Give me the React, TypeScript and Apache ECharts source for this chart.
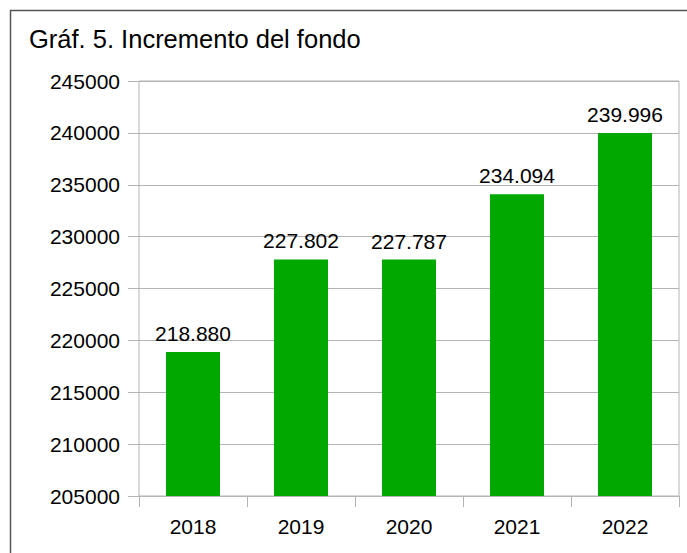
import React, { useEffect, useRef } from "react";
import * as echarts from "echarts";

const title = "Gráf. 5. Incremento del fondo";
const years = ["2018", "2019", "2020", "2021", "2022"];
const values = [218880, 227802, 227787, 234094, 239996];
const yMin = 205000;
const yMax = 245000;
const yStep = 5000;

const fmt = (v: number) => String(v).replace(/\B(?=(\d{3})+(?!\d))/g, ".");

export default function App() {
  const ref = useRef<HTMLDivElement>(null);
  useEffect(() => {
    const chart = echarts.init(ref.current!, undefined, { renderer: "svg" });
    const font = "'Liberation Sans', Arial, sans-serif";
    chart.setOption({
      animation: false,
      backgroundColor: "#ffffff",
      textStyle: { fontFamily: font },
      title: {
        text: title,
        left: 29,
        top: 26,
        padding: 0,
        textStyle: { fontFamily: font, fontSize: 25.5, fontWeight: "normal", color: "#000" },
      },
      graphic: [
        {
          type: "rect",
          shape: { x: 10.5, y: 10.5, width: 700, height: 600 },
          style: { fill: "none", stroke: "#555555", lineWidth: 1.5 },
          silent: true,
          z: 100,
        },
      ],
      grid: {
        left: 139,
        top: 81,
        width: 540,
        height: 415,
        show: true,
        borderColor: "#b3b3b3",
        borderWidth: 1,
        containLabel: false,
      },
      xAxis: {
        type: "category",
        data: years,
        axisLine: { show: true, lineStyle: { color: "#b3b3b3" } },
        axisTick: { show: true, length: 11, lineStyle: { color: "#b3b3b3" } },
        axisLabel: { color: "#000", fontSize: 21, fontFamily: font, margin: 20 },
      },
      yAxis: {
        type: "value",
        min: yMin,
        max: yMax,
        interval: yStep,
        axisLine: { show: false },
        axisTick: { show: true, length: 11, lineStyle: { color: "#b3b3b3" } },
        splitLine: { show: true, lineStyle: { color: "#b3b3b3" } },
        axisLabel: {
          color: "#000",
          fontSize: 21,
          fontFamily: font,
          margin: 19,
          formatter: (v: number) => String(v),
        },
      },
      series: [
        {
          type: "bar",
          data: values,
          barWidth: "50%",
          itemStyle: { color: "#00a800" },
          label: {
            show: true,
            position: "top",
            distance: 8,
            color: "#000",
            fontSize: 21,
            fontFamily: font,
            formatter: (p: any) => fmt(p.value),
          },
        },
      ],
    });
    return () => chart.dispose();
  }, []);
  return (
    <div
      ref={ref}
      style={{ position: "fixed", left: 0, top: 0, width: 687, height: 553 }}
    />
  );
}
